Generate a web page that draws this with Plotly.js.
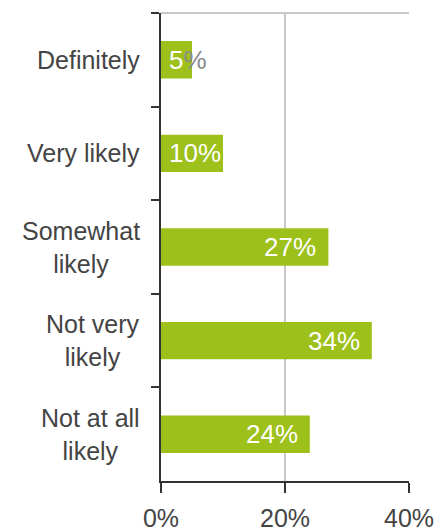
<!DOCTYPE html>
<html>
<head>
<meta charset="utf-8">
<script src="https://cdn.plot.ly/plotly-3.0.1.min.js"></script>
<style>html,body{margin:0;padding:0;background:#fff;}#chart{width:440px;height:532px;}</style>
</head>
<body>
<div id="chart"></div>
<script>
const categories = ["Definitely", "Very likely", "Somewhat likely", "Not very likely", "Not at all likely"];
const categoryLabels = ["Definitely", "Very likely", "Somewhat<br>likely", "Not very<br>likely", "Not at all<br>likely"];
const values = [5, 10, 27, 34, 24];
const xTicks = [0, 20, 40];
const xTickLabels = ["0%", "20%", "40%"];

const green = "#9dc01a";
const textGray = "#444";
const FONT = "Liberation Sans, Arial, sans-serif";

const annotations = [];
categories.forEach((c, i) => {
  annotations.push({
    x: 0, xref: "paper", xanchor: "right", xshift: -19,
    y: c, yref: "y", yanchor: "middle",
    text: categoryLabels[i], showarrow: false, align: "center",
    font: {family: FONT, size: 25, color: textGray}
  });
  const v = values[i];
  const small = v < 15;
  const txt = v < 8
    ? '<span style="fill:#ffffff">' + v + '</span><span style="fill:#8a8a8a">%</span>'
    : v + "%";
  annotations.push({
    x: small ? 0 : v, xref: "x", xanchor: small ? "left" : "right",
    xshift: small ? 6 : -10,
    y: c, yref: "y", yanchor: "middle",
    text: txt, showarrow: false,
    font: {family: FONT, size: 26, color: "#ffffff"}
  });
});

const data = [{
  type: "bar", orientation: "h",
  x: values, y: categories,
  marker: {color: green},
  width: 0.4,
  hoverinfo: "none"
}];

const layout = {
  width: 440, height: 532,
  margin: {l: 161, r: 31, t: 13, b: 51},
  paper_bgcolor: "#fff", plot_bgcolor: "#fff",
  showlegend: false,
  font: {family: FONT, color: textGray},
  xaxis: {
    range: [0, 40], tickvals: xTicks, ticktext: xTickLabels,
    ticks: "outside", ticklen: 10, tickwidth: 2, tickcolor: "#333",
    ticklabelstandoff: 4,
    showline: true, linecolor: "#333", linewidth: 2,
    showgrid: true, gridcolor: "#c8c8c8", gridwidth: 2,
    zeroline: false, fixedrange: true,
    tickfont: {family: FONT, size: 25, color: textGray}
  },
  yaxis: {
    type: "category", autorange: "reversed",
    tickson: "boundaries", ticks: "outside", ticklen: 8, tickwidth: 2, tickcolor: "#333",
    showticklabels: false,
    showline: true, linecolor: "#333", linewidth: 2,
    showgrid: false, zeroline: false, fixedrange: true
  },
  shapes: [{
    type: "line", xref: "paper", yref: "paper", x0: 0, x1: 1, y0: 1, y1: 1,
    line: {color: "#c8c8c8", width: 2}, layer: "below"
  }],
  annotations: annotations
};

Plotly.newPlot("chart", data, layout, {displayModeBar: false, staticPlot: true});
</script>
</body>
</html>
